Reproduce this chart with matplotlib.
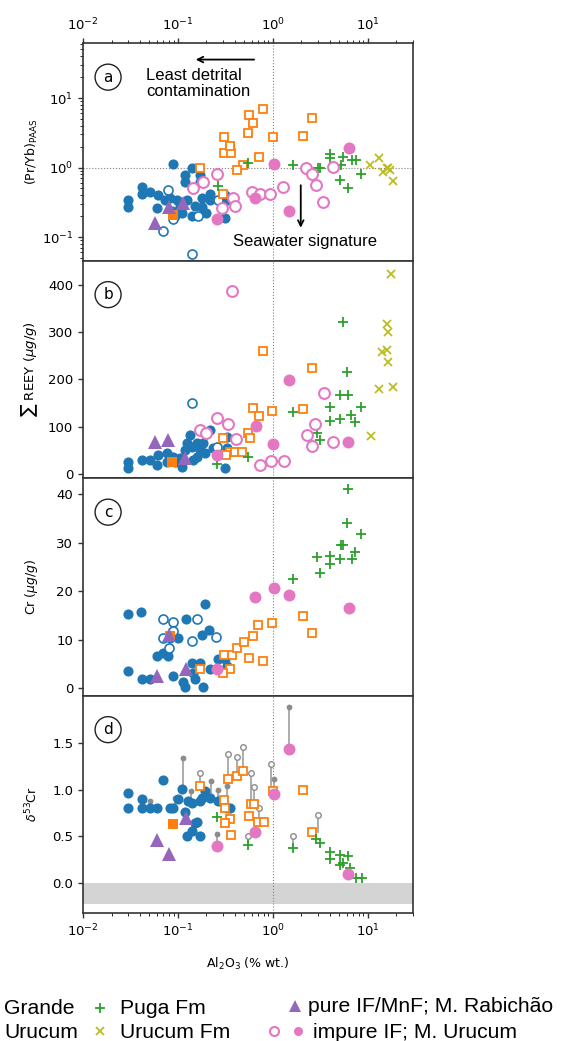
import matplotlib.pyplot as plt
from matplotlib.lines import Line2D

plt.rcParams['font.family'] = 'DejaVu Sans'

BLUE = '#1f77b4'
ORANGE = '#ff7f0e'
GREEN = '#2ca02c'
OLIVE = '#bcbd22'
PURPLE = '#9467bd'
PINK = '#e377c2'
GRAY = '#8c8c8c'

# ---- data: (Al2O3 % wt., value) ----
# panel a, (Pr/Yb)PAAS
a_blue = [(0.089, 1.14), (0.140, 1.0), (0.119, 0.77), (0.119, 0.61), (0.171, 0.77), (0.171, 0.61),
          (0.042, 0.52), (0.042, 0.42), (0.051, 0.44), (0.030, 0.34), (0.030, 0.27), (0.062, 0.40),
          (0.073, 0.34), (0.060, 0.26), (0.098, 0.34), (0.105, 0.28), (0.110, 0.22), (0.140, 0.20),
          (0.151, 0.28), (0.179, 0.36), (0.179, 0.27), (0.217, 0.34), (0.217, 0.42), (0.313, 0.40),
          (0.328, 0.34), (0.313, 0.19), (0.087, 0.24), (0.093, 0.20), (0.124, 0.34), (0.082, 0.36),
          (0.200, 0.22)]
a_blue_open = [(0.079, 0.47), (0.070, 0.124), (0.089, 0.18), (0.162, 0.20), (0.140, 0.058), (0.264, 0.34)]
a_purple = [(0.057, 0.16), (0.080, 0.27), (0.113, 0.31)]
a_orange_fill = [(0.089, 0.21)]
a_orange = [(0.785, 7.06), (0.558, 5.79), (0.616, 4.44), (0.546, 3.19), (1.0, 2.79), (0.305, 2.79),
            (0.352, 1.94), (0.305, 1.64), (0.361, 1.64), (0.713, 1.44), (0.483, 1.10), (0.418, 0.91),
            (0.171, 0.97), (0.298, 0.42), (2.57, 5.24), (2.07, 2.89), (0.352, 2.07)]
a_green = [(0.546, 1.18), (0.264, 0.55), (1.62, 1.10), (2.98, 1.0), (3.12, 0.97), (3.98, 1.59),
           (3.98, 1.39), (5.46, 1.44), (6.79, 1.30), (7.48, 1.30), (5.20, 1.10), (8.44, 0.82),
           (5.07, 0.67), (6.16, 0.50)]
a_olive = [(10.5, 1.10), (13.1, 1.39), (15.8, 0.97), (14.4, 0.85), (17.0, 0.91), (18.3, 0.65), (16.2, 1.0)]
a_pink_open = [(0.257, 0.82), (0.183, 0.61), (0.144, 0.50), (0.38, 0.37), (0.398, 0.28), (0.29, 0.26),
               (0.60, 0.44), (0.73, 0.42), (0.93, 0.42), (1.27, 0.52), (2.23, 0.97), (2.57, 0.82),
               (2.84, 0.57), (4.28, 1.03), (3.36, 0.32)]
a_pink = [(0.257, 0.18), (0.647, 0.37), (1.02, 1.14), (1.47, 0.24), (6.31, 1.94)]

# panel b, sum REEY
b_blue = [(0.030, 25), (0.030, 13), (0.042, 30), (0.051, 30), (0.060, 19), (0.062, 40), (0.077, 44),
          (0.089, 36), (0.105, 34), (0.110, 15), (0.134, 83), (0.140, 57), (0.159, 66), (0.159, 36),
          (0.183, 66), (0.192, 44), (0.217, 93), (0.233, 55), (0.313, 13), (0.328, 78), (0.328, 55),
          (0.124, 66), (0.093, 25), (0.077, 25), (0.119, 51), (0.171, 51), (0.144, 30)]
b_blue_open = [(0.140, 150), (0.257, 57)]
b_purple = [(0.057, 68), (0.079, 72), (0.119, 34)]
b_orange_fill = [(0.087, 25)]
b_orange = [(0.785, 260), (0.616, 140), (0.713, 123), (0.976, 133), (0.546, 87), (0.573, 76),
            (0.298, 76), (0.352, 47), (0.398, 47), (0.472, 47), (0.32, 40), (2.57, 224), (2.07, 137)]
b_green = [(0.257, 21), (0.546, 36), (1.62, 131), (5.46, 322), (6.01, 216), (5.07, 167), (6.16, 167),
           (3.98, 142), (8.44, 142), (6.62, 124), (7.3, 110), (3.98, 112), (5.07, 116), (2.91, 87),
           (3.12, 72)]
b_olive = [(17.5, 423), (15.8, 317), (16.2, 300), (15.8, 262), (14.0, 258), (16.2, 237), (13.1, 180),
           (18.3, 184), (10.8, 80)]
b_pink_open = [(0.370, 387), (0.257, 119), (0.336, 106), (0.171, 93), (0.2, 87), (0.408, 74),
               (0.730, 19), (0.953, 28), (1.31, 28), (3.44, 171), (2.77, 106), (2.3, 83), (2.57, 59),
               (4.28, 68)]
b_pink = [(0.257, 40), (0.66, 102), (1.0, 63), (1.47, 198), (6.16, 68)]

# panel c, Cr
c_blue = [(0.030, 15.3), (0.041, 15.7), (0.030, 3.5), (0.042, 2.0), (0.051, 2.0), (0.060, 6.7),
          (0.070, 7.2), (0.079, 6.7), (0.089, 2.5), (0.100, 10.3), (0.121, 14.2), (0.113, 1.4),
          (0.119, 0.4), (0.140, 5.2), (0.144, 3.1), (0.171, 5.2), (0.179, 10.9), (0.192, 17.4),
          (0.183, 0.3), (0.151, 2.0), (0.212, 12.0), (0.217, 4.0), (0.264, 6.1), (0.313, 6.0),
          (0.328, 4.6), (0.082, 10.3)]
c_blue_open = [(0.070, 14.2), (0.089, 13.6), (0.159, 14.2), (0.251, 10.5), (0.140, 9.7), (0.070, 10.3),
               (0.080, 8.4), (0.089, 11.8)]
c_purple = [(0.060, 2.5), (0.080, 11.0), (0.121, 4.0)]
c_orange_fill = [(0.082, 10.8)]
c_orange = [(0.305, 6.8), (0.37, 6.8), (0.418, 8.3), (0.5, 9.5), (0.616, 10.8), (0.695, 13.0),
            (0.976, 13.5), (0.558, 6.2), (0.785, 5.6), (0.352, 4.0), (0.298, 3.1), (0.171, 4.1),
            (2.07, 14.9), (2.57, 11.4)]
c_green = [(6.16, 41), (6.01, 34), (8.44, 31.7), (5.20, 29.6), (5.46, 29.6), (2.91, 27.1), (3.98, 27.3),
           (3.98, 25.7), (5.07, 26.7), (6.79, 26.7), (7.3, 28.0), (3.12, 23.8), (1.62, 22.6)]
c_pink = [(0.647, 18.8), (1.02, 20.7), (1.47, 19.3), (6.31, 16.6), (0.257, 4.0)]

# panel d, delta53Cr
d_blue = [(0.030, 0.97), (0.030, 0.80), (0.042, 0.90), (0.042, 0.80), (0.051, 0.80), (0.060, 0.80),
          (0.070, 1.10), (0.082, 0.80), (0.089, 0.80), (0.100, 0.90), (0.110, 1.01), (0.119, 0.76),
          (0.127, 0.88), (0.140, 0.86), (0.151, 0.64), (0.140, 0.56), (0.124, 0.50), (0.171, 0.50),
          (0.159, 0.65), (0.171, 0.88), (0.192, 0.99), (0.217, 0.91), (0.264, 0.88), (0.328, 0.80),
          (0.179, 0.91), (0.352, 0.80)]
d_purple = [(0.121, 0.70), (0.060, 0.46), (0.080, 0.31)]
d_orange_fill = [(0.089, 0.63)]
d_orange = [(0.171, 1.04), (0.336, 1.12), (0.418, 1.15), (0.483, 1.20), (0.305, 0.89), (0.313, 0.80),
            (0.352, 0.69), (0.313, 0.64), (0.361, 0.52), (0.586, 0.85), (0.631, 0.85), (0.558, 0.72),
            (0.695, 0.65), (0.804, 0.65), (1.0, 0.99), (2.07, 1.0), (2.57, 0.55)]
d_green = [(0.257, 0.71), (0.546, 0.41), (1.62, 0.38), (2.84, 0.47), (3.12, 0.43), (3.98, 0.33),
           (3.98, 0.26), (5.07, 0.30), (6.16, 0.29), (5.07, 0.19), (5.46, 0.22), (6.47, 0.16),
           (7.48, 0.06), (8.65, 0.06)]
d_pink = [(0.257, 0.40), (0.647, 0.55), (1.02, 0.96), (1.47, 1.44), (6.16, 0.10)]
# alternative values joined to the sample: (x, measured, other, open marker?)
d_stems = [(0.113, 1.01, 1.34, False), (0.171, 1.04, 1.18, True), (0.223, 0.91, 1.09, False),
           (0.264, 0.88, 1.00, False), (0.257, 0.40, 0.53, False), (0.336, 1.12, 1.38, True),
           (0.418, 1.15, 1.35, True), (0.483, 1.20, 1.46, True), (0.586, 0.85, 1.18, True),
           (0.631, 0.85, 1.03, True), (0.713, 0.65, 0.80, True), (0.546, 0.41, 0.51, True),
           (0.953, 0.99, 1.28, True), (1.02, 0.96, 1.12, False), (1.47, 1.44, 1.89, False),
           (1.62, 0.38, 0.51, True), (2.98, 0.55, 0.73, True), (0.051, 0.80, 0.88, False),
           (0.093, 0.80, 0.91, False), (0.137, 0.86, 0.99, False), (0.328, 0.80, 1.04, False)]

styles = {
    'blue': dict(marker='o', ms=7.3, color=BLUE, mew=0),
    'blue_open': dict(marker='o', ms=6.5, mfc='white', mec=BLUE, mew=1.2),
    'purple': dict(marker='^', ms=10, color=PURPLE, mew=0),
    'orange_fill': dict(marker='s', ms=6.5, color=ORANGE, mew=0),
    'orange': dict(marker='s', ms=6, mfc='white', mec=ORANGE, mew=1.3),
    'green': dict(marker='+', ms=6.5, color=GREEN, mew=1.3),
    'olive': dict(marker='x', ms=6, color=OLIVE, mew=1.3),
    'pink_open': dict(marker='o', ms=7.8, mfc='white', mec=PINK, mew=1.5),
    'pink': dict(marker='o', ms=8.6, color=PINK, mew=0),
}


def draw(ax, series):
    for name, pts in series:
        xs = [p[0] for p in pts]
        ys = [p[1] for p in pts]
        ax.plot(xs, ys, ls='none', zorder=3, **styles[name])


fig = plt.figure(figsize=(5.7, 10.41), dpi=100)
gs = fig.add_gridspec(4, 1, left=83 / 570, right=413 / 570, top=1 - 43 / 1041, bottom=1 - 913 / 1041,
                      hspace=0)
axes = [fig.add_subplot(gs[i]) for i in range(4)]

for ax, letter in zip(axes, 'abcd'):
    ax.set_xscale('log')
    ax.set_xlim(0.01, 30)
    ax.axvline(1, color='gray', ls=':', lw=0.8, zorder=1)
    for sp in ax.spines.values():
        sp.set_linewidth(1.2)
        sp.set_color('#333333')
    ax.tick_params(labelsize=9.5, width=1.0, color='#333333')
    ax.tick_params(axis='x', which='both', bottom=False, labelbottom=False)
    ax.text(0.076, 0.843, letter, transform=ax.transAxes, ha='center', va='center', fontsize=11,
            bbox=dict(boxstyle='circle,pad=0.36', fc='white', ec='#222222', lw=1.0))
    ax.yaxis.set_label_coords(-0.13, 0.5)

ax_a, ax_b, ax_c, ax_d = axes

# panel a
ax_a.set_yscale('log')
ax_a.set_ylim(0.046, 62)
ax_a.axhline(1, color='gray', ls=':', lw=0.8, zorder=1)
ax_a.tick_params(axis='x', which='both', top=True, labeltop=True)
draw(ax_a, [('blue', a_blue), ('blue_open', a_blue_open), ('orange', a_orange), ('green', a_green),
            ('olive', a_olive), ('pink_open', a_pink_open), ('pink', a_pink),
            ('orange_fill', a_orange_fill), ('purple', a_purple)])
ax_a.set_ylabel(r'(Pr/Yb)$_{\rm PAAS}$', fontsize=9)
ax_a.annotate('', xy=(0.144, 35.8), xytext=(0.68, 35.8),
              arrowprops=dict(arrowstyle='->', lw=1.3, color='black'))
ax_a.text(0.046, 27, 'Least detrital\ncontamination', ha='left', va='top', fontsize=12,
          family='Liberation Sans', linespacing=1.05)
ax_a.annotate('', xy=(1.97, 0.124), xytext=(1.97, 0.61),
              arrowprops=dict(arrowstyle='->', lw=1.3, color='black'))
ax_a.text(2.17, 0.086, 'Seawater signature', ha='center', va='center', fontsize=12,
          family='Liberation Sans')

# panel b
ax_b.set_ylim(-8.5, 451)
ax_b.set_yticks([0, 100, 200, 300, 400])
draw(ax_b, [('blue', b_blue), ('blue_open', b_blue_open), ('orange', b_orange), ('green', b_green),
            ('olive', b_olive), ('pink_open', b_pink_open), ('pink', b_pink),
            ('orange_fill', b_orange_fill), ('purple', b_purple)])
ax_b.set_ylabel(r'$\sum$ REEY ($\mu g/g$)', fontsize=9.5)

# panel c
ax_c.set_ylim(-1.45, 43.3)
ax_c.set_yticks([0, 10, 20, 30, 40])
draw(ax_c, [('blue', c_blue), ('blue_open', c_blue_open), ('orange', c_orange), ('green', c_green),
            ('pink', c_pink), ('orange_fill', c_orange_fill), ('purple', c_purple)])
ax_c.set_ylabel(r'Cr ($\mu g/g$)', fontsize=9)

# panel d
ax_d.set_ylim(-0.32, 2.01)
ax_d.set_yticks([0.0, 0.5, 1.0, 1.5])
ax_d.axhspan(-0.22, 0, color='#d4d4d4', lw=0, zorder=0)
ax_d.tick_params(axis='x', which='both', bottom=True, labelbottom=True)
for x, lo, hi, is_open in d_stems:
    ax_d.plot([x, x], [lo, hi], color='#a6a6a6', lw=1.3, zorder=2)
    if is_open:
        ax_d.plot(x, hi, marker='o', ms=4, mfc='white', mec=GRAY, mew=1.0, zorder=2)
    else:
        ax_d.plot(x, hi, marker='o', ms=4.2, color=GRAY, mew=0, zorder=2)
draw(ax_d, [('blue', d_blue), ('orange', d_orange), ('green', d_green), ('pink', d_pink),
            ('orange_fill', d_orange_fill), ('purple', d_purple)])
ax_d.set_ylabel(r'$\delta^{53}$Cr', fontsize=9)
ax_d.set_xlabel(r'Al$_2$O$_3$ (% wt.)', fontsize=9, labelpad=12)

# legend drawn in figure coordinates
def fy(py):
    return 1 - py / 1041


leg_font = dict(fontsize=15.2, family='Liberation Sans', va='center', ha='left')
fig.text(4 / 570, fy(1009), 'Grande', **leg_font)
fig.text(4 / 570, fy(1032), 'Urucum', **leg_font)
fig.text(120 / 570, fy(1009), 'Puga Fm', **leg_font)
fig.text(120 / 570, fy(1032), 'Urucum Fm', **leg_font)
fig.text(308 / 570, fy(1007), 'pure IF/MnF; M. Rabichão', **leg_font)
fig.text(313 / 570, fy(1032), 'impure IF; M. Urucum', **leg_font)
for px, py, name in [(100, 1008, 'green'), (100, 1031, 'olive'), (295, 1006, 'purple'),
                     (274, 1031, 'pink_open'), (298, 1031, 'pink')]:
    st = dict(styles[name])
    if name == 'purple':
        st['ms'] = 8
    if name in ('pink_open', 'pink'):
        st['ms'] = 6.5
    fig.add_artist(Line2D([px / 570], [fy(py)], transform=fig.transFigure, ls='none', **st))

fig.savefig('out.png', dpi=100)
